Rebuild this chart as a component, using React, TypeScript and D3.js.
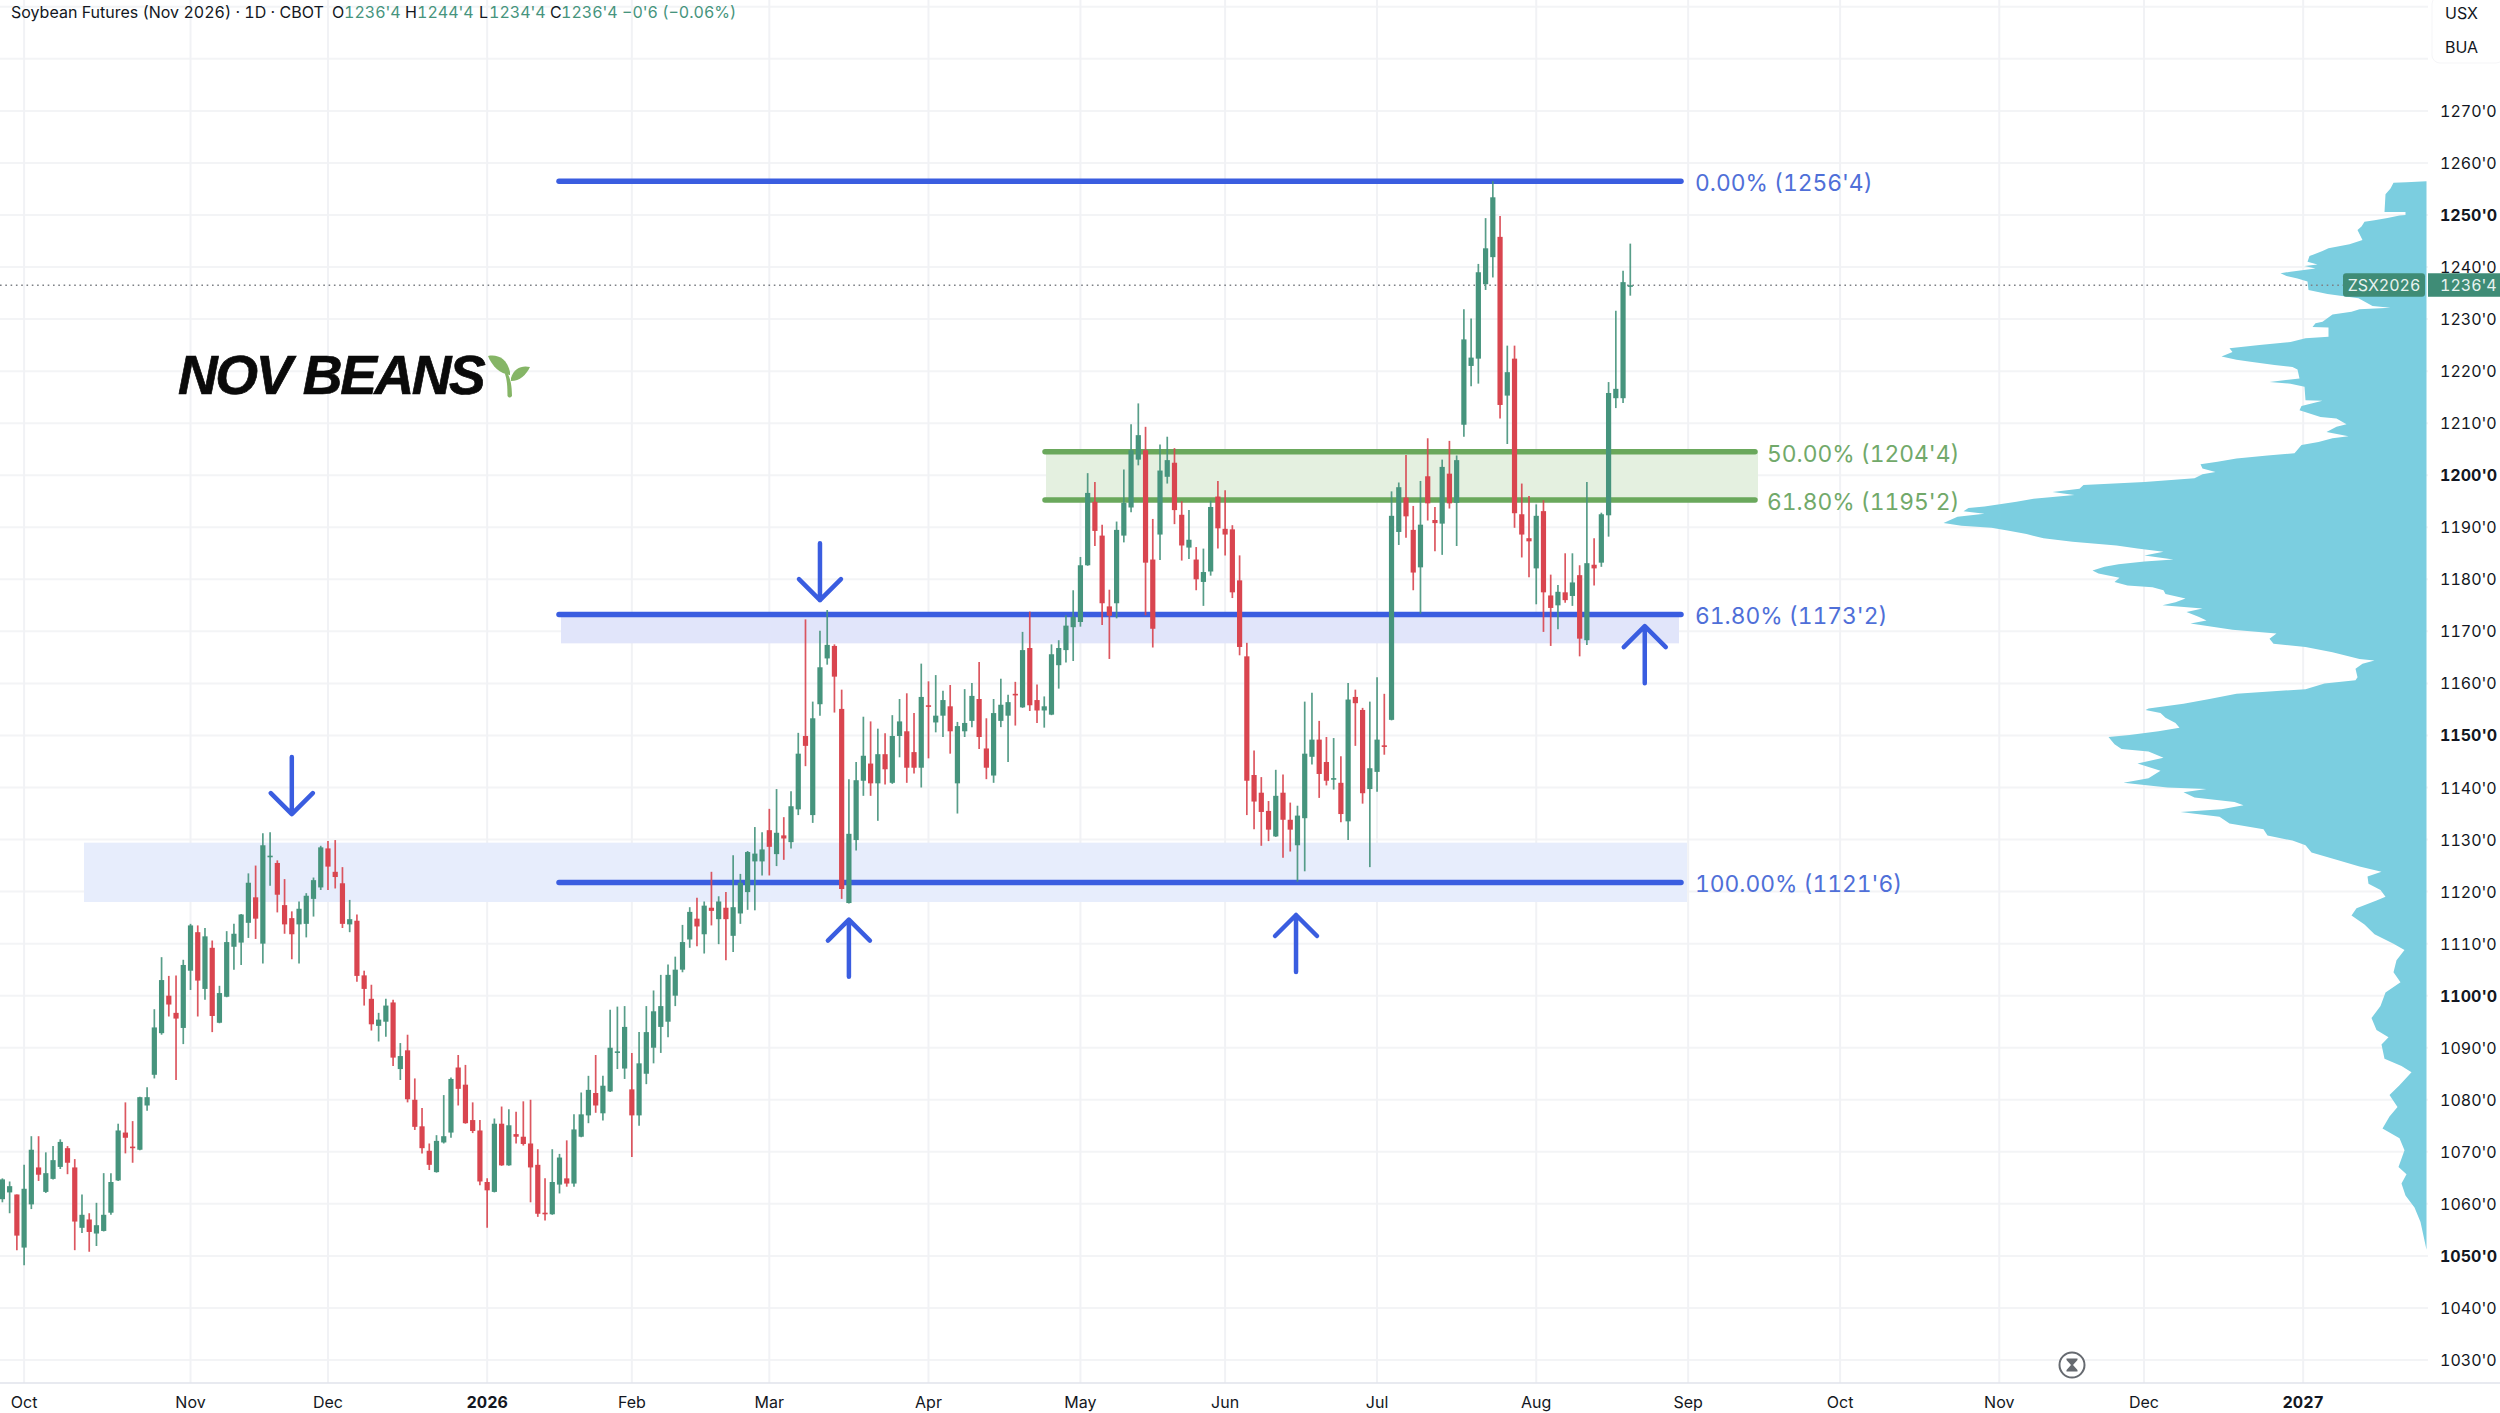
import * as d3 from "d3";

const WIDTH = 2500;
const HEIGHT = 1413;
const FONT = "Inter, 'Noto Sans', sans-serif";

const GREEN = "#46947d";
const RED = "#d9454f";
const BLUE = "#3a5de0";
const LEVEL_GREEN = "#6aa85c";

// daily bars, Sep 2025 to Aug 2026
const opens = [
  1060.9, 1062.2, 1061.8, 1051.6, 1059.9, 1067, 1062.3, 1064.8, 1067.1, 1070.7,
  1067, 1055.4, 1057, 1054.3, 1054.8, 1058.3, 1064.5, 1073.7, 1071, 1070.4,
  1078.9, 1084.8, 1092.8, 1100, 1096.7, 1093.8, 1104.8, 1112.2, 1101.3, 1109.2,
  1094.8, 1099.8, 1109.4, 1110.2, 1114, 1118.9, 1110, 1126.8, 1125.5, 1117.4,
  1114.9, 1113.7, 1113.8, 1118.6, 1120.8, 1128.3, 1123.8, 1121.6, 1113.7, 1114.4,
  1103.9, 1099.4, 1094.2, 1095, 1098.7, 1085.9, 1089.5, 1080, 1074.9, 1070.2,
  1066.1, 1071.8, 1073.7, 1086.2, 1082.9, 1076.1, 1074.1, 1064.2, 1062.3, 1075.4,
  1067.4, 1073.4, 1072.9, 1071.6, 1067.5, 1058.3, 1058, 1063.7, 1064.9, 1063.9,
  1072.9, 1077, 1081.3, 1077.4, 1081.6, 1089.2, 1086, 1082, 1077, 1085,
  1090, 1094, 1095, 1100, 1105, 1110.8, 1114.8, 1111.8, 1116.9, 1114.7,
  1116.9, 1111.5, 1115.8, 1119.9, 1125.8, 1125.8, 1131.8, 1127.2, 1130.8, 1129.5,
  1135.8, 1149.9, 1134.7, 1156, 1164.8, 1167.2, 1155.1, 1117.8, 1129.9, 1141.3,
  1144.6, 1140.8, 1146.4, 1140.9, 1149.9, 1150.8, 1146.8, 1143.8, 1155.8, 1152.5,
  1153.8, 1155.6, 1140.8, 1150.8, 1152.8, 1157, 1147.5, 1142.3, 1152.8, 1153.8,
  1158, 1155.4, 1166.8, 1156.8, 1154.8, 1154, 1163.5, 1166.4, 1170.8, 1171.8,
  1182.7, 1194.9, 1188.4, 1174.8, 1175.4, 1188.4, 1193.8, 1203, 1204.8, 1183.8,
  1188.6, 1199.7, 1202.4, 1192.4, 1186.1, 1183.8, 1179.5, 1181.5, 1195.9, 1189.7,
  1189.6, 1179.8, 1165.2, 1142.4, 1139, 1135.5, 1130.6, 1139, 1133.8, 1128.9,
  1134.1, 1145.9, 1149.2, 1144.9, 1141.7, 1140.9, 1133.5, 1157.4, 1154.9, 1139.7,
  1143, 1148.1, 1153, 1189.1, 1195.7, 1189.5, 1182.3, 1199.8, 1191.4, 1190.7,
  1200.3, 1194.7, 1209.7, 1221, 1222.4, 1236.7, 1241.9, 1245.8, 1215.3, 1222.4,
  1192.5, 1187.9, 1182.1, 1193.1, 1176.9, 1175, 1177.5, 1176.8, 1180.8, 1168.3,
  1182.8, 1183.2, 1192.3, 1214.8, 1214.8, 1236.5,
];

const highs = [
  1064.9, 1064.3, 1061.8, 1067.5, 1073, 1073, 1069.9, 1071.1, 1072.4, 1071.1,
  1068.6, 1061.8, 1058.2, 1060.2, 1065.9, 1065.9, 1075.4, 1079.5, 1075.9, 1080.6,
  1082.4, 1097.4, 1107.4, 1103.8, 1103.9, 1106.9, 1113.8, 1113.5, 1113, 1110.6,
  1101.9, 1112.4, 1113.8, 1115.7, 1123.5, 1125, 1131.2, 1131.4, 1126, 1122.4,
  1116.2, 1118.1, 1119.7, 1122.7, 1128.8, 1129.7, 1129.9, 1124.7, 1118.4, 1115.6,
  1104.8, 1102.1, 1096.7, 1099.4, 1099.2, 1090.9, 1092.5, 1084.1, 1078.4, 1071.6,
  1073.2, 1080.9, 1084.3, 1088.6, 1086.7, 1079.5, 1076.1, 1064.9, 1076.4, 1078.7,
  1078.2, 1077.7, 1079.7, 1080, 1070.5, 1064.9, 1070.5, 1069.6, 1072.2, 1077.2,
  1081.4, 1084.6, 1088.6, 1084.6, 1097.3, 1097.9, 1098, 1089, 1093, 1098,
  1101, 1104, 1106, 1107.5, 1113.6, 1117, 1118.8, 1118.1, 1123.8, 1119.1,
  1119.9, 1127, 1123.4, 1127.8, 1132.4, 1131.4, 1135.9, 1139.7, 1134.3, 1139.3,
  1150.5, 1172.3, 1156.5, 1170.1, 1174.1, 1167.5, 1158.8, 1141.6, 1144.9, 1153.6,
  1152.7, 1151.3, 1150.4, 1153.9, 1157, 1158.1, 1154.3, 1163.8, 1160.4, 1161.6,
  1158.6, 1159.7, 1152.6, 1158.9, 1160.1, 1164.1, 1153.3, 1157, 1160.9, 1157.8,
  1160.3, 1169.9, 1173.8, 1159.8, 1157.5, 1167.5, 1168.3, 1173.1, 1177.9, 1184.3,
  1200.4, 1198.7, 1190.5, 1178, 1191.1, 1201.1, 1209.8, 1213.8, 1209.3, 1191.6,
  1205.9, 1207.4, 1205.2, 1195, 1193.3, 1186.2, 1185.9, 1195.1, 1198.9, 1197.1,
  1190.4, 1184.6, 1167.8, 1147.1, 1142, 1137.4, 1143.4, 1142.5, 1137.1, 1136.5,
  1156.5, 1158.2, 1152.8, 1149.7, 1149.5, 1146, 1160.1, 1158.8, 1155.3, 1156.5,
  1161.2, 1158, 1196.9, 1198.6, 1203.9, 1194.1, 1198.9, 1207.1, 1193.9, 1203,
  1206.6, 1203.8, 1231.9, 1230.1, 1240.6, 1249.4, 1256.5, 1249.8, 1224.9, 1224.9,
  1198.4, 1196, 1194.4, 1195.2, 1180.9, 1178.9, 1185, 1185, 1182.7, 1198.7,
  1187.9, 1192.8, 1217.9, 1231.6, 1239.3, 1244.5,
];

const lows = [
  1060.3, 1058.2, 1051.1, 1048.2, 1059, 1064.4, 1062.1, 1064.7, 1066.7, 1065.7,
  1051.1, 1054.4, 1050.8, 1051.9, 1054.7, 1057.9, 1064.4, 1069.7, 1067.9, 1070.3,
  1077.9, 1084.1, 1092.5, 1096, 1083.8, 1090.7, 1101.1, 1096, 1099.2, 1093,
  1094.7, 1099.7, 1105, 1105.9, 1111.1, 1110.9, 1106.2, 1121.1, 1116, 1111.9,
  1107, 1106.2, 1111.2, 1115.2, 1120.3, 1120.3, 1120.6, 1113, 1112.2, 1102.7,
  1098.1, 1093.3, 1091.2, 1092.1, 1086.5, 1083.8, 1079.5, 1074.2, 1069.7, 1066.5,
  1066, 1071.6, 1072.7, 1078.9, 1075.4, 1073.6, 1063.6, 1055.4, 1062.2, 1067.3,
  1067.3, 1071.6, 1071.2, 1060.3, 1057.5, 1056.8, 1057.9, 1062, 1063.3, 1063.3,
  1072.8, 1075.5, 1077.5, 1076, 1081.5, 1085.9, 1084, 1069, 1075, 1083,
  1087, 1089, 1092, 1098, 1104.5, 1109.2, 1109.5, 1108.1, 1113.5, 1109.9,
  1106.8, 1108.4, 1113.8, 1116.5, 1116.4, 1123.1, 1123.1, 1124.9, 1126.1, 1128.3,
  1134.7, 1144.1, 1133.2, 1153.8, 1163.6, 1154.4, 1118.6, 1117.7, 1127.9, 1138.4,
  1138.4, 1133.6, 1140.6, 1140.7, 1145.8, 1140.9, 1142.7, 1140, 1145.6, 1150.6,
  1149.7, 1146.5, 1135, 1149.7, 1151.6, 1147.4, 1141.6, 1140.9, 1151.6, 1144.9,
  1151.9, 1155.3, 1154.7, 1152.4, 1151.5, 1153.9, 1159, 1164, 1164.3, 1170.9,
  1182.6, 1186.4, 1171.2, 1164.7, 1172.5, 1187.1, 1192.9, 1201.9, 1173.1, 1166.9,
  1183.7, 1198.4, 1190.6, 1183.6, 1183.9, 1177.9, 1174.9, 1180.7, 1185.9, 1184.6,
  1176.4, 1165.4, 1134.7, 1132, 1128.8, 1129.7, 1130.5, 1126.5, 1127.7, 1121.9,
  1123.9, 1144.4, 1138, 1140.4, 1139.6, 1133.3, 1129.9, 1148, 1136.9, 1124.7,
  1139.2, 1146.3, 1152.9, 1186.6, 1188, 1177.9, 1173.4, 1191.3, 1185.4, 1184.7,
  1193.6, 1186.4, 1207.4, 1217.1, 1217.6, 1235.6, 1238, 1210.9, 1206, 1189.9,
  1184.2, 1180.4, 1175.2, 1169.9, 1167.2, 1170.4, 1175.5, 1174.9, 1165.2, 1167.4,
  1178.8, 1182.4, 1188.2, 1212.9, 1213.9, 1234.5,
];

const closes = [
  1064.7, 1063.4, 1053.9, 1062.9, 1070.4, 1065.6, 1065.9, 1068.4, 1071.9, 1067.9,
  1056.6, 1057.9, 1054.6, 1055.9, 1057.9, 1064.2, 1074.1, 1072.7, 1070.9, 1080.5,
  1080.5, 1093.9, 1103, 1098.3, 1095.6, 1105.9, 1113.5, 1102.9, 1111.4, 1096.1,
  1100.5, 1110.3, 1111.9, 1115.6, 1121.7, 1114.8, 1128.9, 1126.9, 1119.4, 1113.7,
  1111.8, 1116.7, 1119.2, 1122.2, 1128.5, 1124.8, 1122.8, 1113.8, 1114.7, 1103.8,
  1101.3, 1094.5, 1095.4, 1098.1, 1088.1, 1088.4, 1080.1, 1074.8, 1070.7, 1067.5,
  1072.1, 1073, 1084, 1082.1, 1075.5, 1074, 1064.3, 1062.6, 1075.4, 1067.4,
  1075.1, 1072.9, 1071.5, 1067, 1058.1, 1058.2, 1064.2, 1068.9, 1063.9, 1074.3,
  1077.2, 1081.9, 1078.9, 1082.7, 1090, 1089.3, 1094, 1077, 1087, 1093,
  1097, 1098, 1104, 1105, 1110.3, 1116.1, 1113.3, 1117.3, 1116.3, 1118.1,
  1114.7, 1117, 1121.7, 1127.6, 1127.3, 1128.1, 1128.6, 1131.3, 1130.2, 1136.4,
  1146.5, 1148, 1153.3, 1163.1, 1167.4, 1161.3, 1120.5, 1131.1, 1141.4, 1146.1,
  1140.8, 1146.4, 1143.5, 1149.9, 1152.7, 1143.8, 1143.8, 1157.4, 1155.7, 1153.8,
  1156.8, 1150.8, 1151.8, 1152.4, 1157.6, 1149.7, 1143.8, 1154.3, 1155.9, 1156.4,
  1157.9, 1166.4, 1155.8, 1154.8, 1155.6, 1165.6, 1166.8, 1171.1, 1172.8, 1182.7,
  1196.6, 1189.3, 1175.4, 1173, 1189.5, 1194.7, 1204.8, 1207.7, 1183.2, 1170.5,
  1200.9, 1202.9, 1193.3, 1186.5, 1187.6, 1180, 1181.4, 1193.9, 1189.8, 1188.6,
  1177.5, 1167, 1141.3, 1137.3, 1135.3, 1131.9, 1138.4, 1133.8, 1131.9, 1134.6,
  1146.5, 1149.2, 1142.6, 1141.3, 1141.8, 1134.9, 1156.9, 1156.2, 1138.9, 1143.7,
  1149.2, 1148, 1192.2, 1197.7, 1192.1, 1181.3, 1190.5, 1194.6, 1190.8, 1201.6,
  1194.6, 1202.9, 1226.1, 1222.6, 1239, 1243.6, 1253.4, 1213.5, 1219.8, 1192.7,
  1188.6, 1187.3, 1192.2, 1177.5, 1174.5, 1177.6, 1176, 1179.4, 1168.6, 1183.1,
  1182.1, 1192.5, 1215.8, 1216.6, 1237.1, 1236.5,
];

// volume profile, price levels from the top down with their relative volume
const profilePrices = [
  1256.5, 1256.3, 1256.2, 1255.1, 1254, 1250.6, 1250.6, 1250, 1249.9, 1249.4, 1249, 1248.7, 1247.8, 1247.1, 1245.2,
  1244.4, 1243.6, 1243.1, 1242.1, 1241, 1240.5, 1240.2, 1239.7, 1239.1, 1238.8, 1238.3, 1237.8, 1237.2, 1235.6,
  1234.8, 1234, 1232.5, 1232.2, 1231.9, 1231.4, 1230.9, 1229.5, 1229.2, 1228.5, 1228.4, 1226.6, 1226.3, 1225.6,
  1225, 1224.4, 1223.7, 1222.8, 1222.2, 1221.8, 1221.2, 1220.8, 1220.3, 1218.6, 1217.9, 1217.6, 1217, 1214.4,
  1214.3, 1213.8, 1213.3, 1212.5, 1211.2, 1210.9, 1209.8, 1209.3, 1208.3, 1207.5, 1207.1, 1206.4, 1205.8, 1204.2,
  1203.8, 1203.2, 1202.6, 1202.1, 1201.3, 1200.6, 1200.2, 1199.4, 1198.7, 1198.1, 1197.4, 1196.8, 1196.2, 1195.5,
  1194.9, 1194, 1193.7, 1193.1, 1192.6, 1192, 1190.8, 1190.3, 1189.9, 1189.4, 1188.7, 1187.9, 1187.2, 1186.5,
  1185.9, 1185.3, 1184.6, 1183.8, 1183.4, 1182.9, 1182.4, 1181.7, 1181.1, 1180.3, 1179.5, 1178.8, 1178.5, 1177.9,
  1177.2, 1176.3, 1175.6, 1175, 1174.4, 1173.7, 1172.8, 1172.1, 1171.5, 1170.3, 1169.6, 1168.6, 1167.6, 1167,
  1166, 1164.7, 1164.4, 1163.8, 1162.8, 1161.2, 1160.6, 1160, 1158.9, 1158, 1157, 1156.1, 1155.2, 1154.9, 1154.3,
  1153.4, 1152.4, 1151.5, 1150.8, 1150.1, 1149.7, 1148.3, 1147.4, 1146.9, 1145.7, 1144.6, 1143.2, 1141.8, 1140.9,
  1140, 1139.7, 1139.1, 1138.1, 1137.2, 1136.6, 1135.8, 1135.3, 1134.4, 1133.1, 1132, 1130.8, 1129.8, 1128.9,
  1127.5, 1126.1, 1124.8, 1123.8, 1122.9, 1121.5, 1120.3, 1119, 1118.3, 1116.8, 1115.4, 1113.7, 1111.8, 1110,
  1108.8, 1106.8, 1104.5, 1102.6, 1100.6, 1098, 1095.7, 1093.4, 1092, 1090.6, 1087.9, 1086.5, 1085.3, 1082.8,
  1080.9, 1078.6, 1076.8, 1074.5, 1072.6, 1070.3, 1067.1, 1065.7, 1063.9, 1061.6, 1059.3, 1056.5, 1051.2,
];

const profileVolumes = [
  0, 20, 33, 36, 41, 42, 21, 21, 27, 39, 52, 62, 65, 69, 64,
  77, 98, 104, 117, 119, 109, 122, 111, 136, 146, 140, 129, 119, 118,
  99, 68, 54, 36, 67, 75, 94, 104, 111, 114, 98, 98, 121, 136,
  167, 197, 194, 205, 190, 176, 152, 134, 129, 127, 157, 136, 122, 121,
  104, 115, 125, 127, 106, 90, 80, 90, 100, 78, 94, 108, 125, 132,
  159, 190, 209, 226, 224, 211, 224, 232, 282, 343, 347, 374, 352, 393,
  410, 442, 458, 463, 442, 469, 483, 465, 435, 419, 400, 383, 354, 310,
  289, 263, 282, 253, 282, 308, 322, 334, 328, 307, 312, 299, 274, 263,
  261, 241, 251, 264, 224, 240, 228, 220, 236, 194, 150, 157, 153, 121,
  94, 67, 52, 64, 71, 69, 71, 102, 121, 190, 217, 243, 278, 281, 266,
  261, 251, 247, 268, 297, 318, 312, 305, 278, 263, 289, 266, 278, 303,
  259, 220, 243, 232, 192, 183, 205, 246, 207, 197, 163, 159, 134, 121,
  115, 90, 67, 45, 59, 58, 46, 41, 50, 70, 75, 62, 52, 33,
  22, 30, 33, 26, 41, 46, 55, 50, 38, 45, 42, 25, 15, 27,
  37, 29, 37, 44, 27, 22, 28, 20, 25, 21, 12, 6, 0,
];

const priceTicks = d3.range(1290, 1020, -10);
const priceTickLabelsHidden = [1290, 1280];
const boldPriceTicks = [1250, 1200, 1150, 1100, 1050];

const monthLabels = ["Oct", "Nov", "Dec", "2026", "Feb", "Mar", "Apr", "May", "Jun", "Jul", "Aug", "Sep", "Oct", "Nov", "Dec", "2027"];
const monthBars = [3, 26, 45, 67, 87, 106, 128, 149, 169, 190, 212, 233, 254, 276, 296, 318];
const boldMonths = ["2026", "2027"];

const blueLevels = [1256.5, 1173.25, 1121.75];
const blueLabels = ["0.00% (1256'4)", "61.80% (1173'2)", "100.00% (1121'6)"];
const greenLevels = [1204.5, 1195.25];
const greenLabels = ["50.00% (1204'4)", "61.80% (1195'2)"];

const arrowBars = [40, 113, 117, 178.8, 227];
const arrowTips = [1134.9, 1176, 1114.6, 1115.5, 1171];
const arrowDirections = ["down", "down", "up", "up", "up"];

const xScale = d3.scaleLinear().domain([0, 345]).range([2.4, 2498.5]);
const yScale = d3.scaleLinear().domain([1250, 1030]).range([215, 1360]);
const profileScale = d3.scaleLinear().domain([0, 483]).range([2426.5, 1943.5]);

const profileArea = d3
  .area<number>()
  .y((d) => yScale(d))
  .x0(profileScale(0))
  .x1((_, i) => profileScale(profileVolumes[i]));

const Candles = () => (
  <g>
    {opens.map((open, i) => {
      const up = closes[i] >= open;
      const color = up ? GREEN : RED;
      const x = xScale(i);
      const top = yScale(Math.max(open, closes[i]));
      const bottom = yScale(Math.min(open, closes[i]));
      return (
        <g key={i}>
          <line x1={x} x2={x} y1={yScale(highs[i])} y2={yScale(lows[i])} stroke={color} strokeWidth={1.7} opacity={0.9} />
          <rect x={x - 2.6} width={5.2} y={top} height={Math.max(bottom - top, 1.6)} fill={color} />
        </g>
      );
    })}
  </g>
);

const Arrow = ({ bar, tip, direction }: { bar: number; tip: number; direction: string }) => {
  const x = xScale(bar);
  const y = yScale(tip);
  const sign = direction === "down" ? -1 : 1;
  return (
    <path
      d={`M${x},${y + sign * 57} L${x},${y} M${x - 21},${y + sign * 21} L${x},${y} L${x + 21},${y + sign * 21}`}
      fill="none"
      stroke={BLUE}
      strokeWidth={4.5}
      strokeLinecap="round"
      strokeLinejoin="round"
    />
  );
};

const App = () => {
  const closeY = yScale(1236.5);
  return (
    <svg
      width={WIDTH}
      height={HEIGHT}
      style={{ position: "absolute", left: 0, top: 0, background: "#fff", fontVariantNumeric: "tabular-nums" }}
      fontFamily={FONT}
    >
      {priceTicks.map((p) => (
        <line key={p} x1={0} x2={2428} y1={yScale(p)} y2={yScale(p)} stroke="#f3f4f6" strokeWidth={2} />
      ))}
      {monthBars.map((b, i) => (
        <line key={i} x1={xScale(b)} x2={xScale(b)} y1={0} y2={1383} stroke="#f1f2f5" strokeWidth={2} />
      ))}

      <rect x={84} width={1603} y={yScale(1129.4)} height={yScale(1118) - yScale(1129.4)} fill="#e6ecfc" opacity={0.95} />
      <rect x={561} width={1118} y={yScale(1173.25)} height={yScale(1167.7) - yScale(1173.25)} fill="#dfe4fa" opacity={0.95} />
      <rect
        x={1046}
        width={712}
        y={yScale(greenLevels[0])}
        height={yScale(greenLevels[1]) - yScale(greenLevels[0])}
        fill="#e4f0e0"
      />

      <path d={profileArea(profilePrices) ?? ""} fill="#7bcee0" />

      {blueLevels.map((p, i) => (
        <g key={p}>
          <line x1={559} x2={1681} y1={yScale(p)} y2={yScale(p)} stroke={BLUE} strokeWidth={5.5} strokeLinecap="round" />
          <text x={1695} y={yScale(p) + 10} fontSize={22.8} fill="#4f6fd8">
            {blueLabels[i]}
          </text>
        </g>
      ))}
      {greenLevels.map((p, i) => (
        <g key={p}>
          <line x1={1045} x2={1755} y1={yScale(p)} y2={yScale(p)} stroke={LEVEL_GREEN} strokeWidth={5.5} strokeLinecap="round" />
          <text x={1767} y={yScale(p) + 10} fontSize={22.8} fill="#71a96a">
            {greenLabels[i]}
          </text>
        </g>
      ))}

      <line x1={0} x2={2343} y1={closeY} y2={closeY} stroke="#7d8085" strokeWidth={1.5} strokeDasharray="1.6 3.7" />

      <Candles />

      {arrowBars.map((b, i) => (
        <Arrow key={i} bar={b} tip={arrowTips[i]} direction={arrowDirections[i]} />
      ))}

      <text
        x={178}
        y={394}
        fontFamily="'Liberation Sans', Arial, sans-serif"
        fontWeight={700}
        fontStyle="italic"
        fontSize={55}
        letterSpacing={-2.4}
        fill="#0a0a0a"
        stroke="#0a0a0a"
        strokeWidth={0.7}
      >
        NOV BEANS
      </text>
      <g fill="#85b566">
        <path d="M488,356 C497,354 507,358 510,372 L510,375 C500,374 492,366 488,356 Z" />
        <path d="M530,367 C522,365 514,368 511,378 L511,381 C520,381 526,375 530,367 Z" />
        <path d="M507,372 C510,378 512,384 512,396 Q509.5,399 507.5,396 C507.5,386 507,380 505,374 Z" />
      </g>

      {/* legend line */}
      <text x={11} y={18} fontSize={16} fill="#131722">
        Soybean Futures (Nov 2026) · 1D · CBOT
      </text>
      <g fontSize={16}>
        <text x={332} y={18} fill="#131722">O</text>
        <text x={344} y={18} fill={GREEN}>1236'4</text>
        <text x={405} y={18} fill="#131722">H</text>
        <text x={417} y={18} fill={GREEN}>1244'4</text>
        <text x={479} y={18} fill="#131722">L</text>
        <text x={489} y={18} fill={GREEN}>1234'4</text>
        <text x={550} y={18} fill="#131722">C</text>
        <text x={561} y={18} fill={GREEN}>1236'4</text>
        <text x={622} y={18} fill={GREEN}>−0'6 (−0.06%)</text>
      </g>

      {/* price axis */}
      <rect x={2432} y={-4} width={72} height={67} rx={8} fill="#fff" stroke="#f5f5f7" />
      <text x={2445} y={19} fontSize={16} fill="#131722">USX</text>
      <text x={2445} y={53} fontSize={16} fill="#131722">BUA</text>
      {priceTicks
        .filter((p) => !priceTickLabelsHidden.includes(p))
        .map((p) => (
          <text
            key={p}
            x={2440}
            y={yScale(p) + 6}
            fontSize={16}
            fontWeight={boldPriceTicks.includes(p) ? 700 : 400}
            fill="#131722"
          >
            {`${p}'0`}
          </text>
        ))}

      {/* last price tags */}
      <rect x={2343} y={closeY - 12} width={82} height={23.5} rx={3} fill="#3f8c76" />
      <rect x={2428} y={closeY - 12} width={72} height={23.5} fill="#3f8c76" />
      <text x={2384} y={closeY + 6} fontSize={16} textAnchor="middle" fill="#e8f3f0">ZSX2026</text>
      <text x={2440} y={closeY + 6} fontSize={16} fill="#e8f3f0">1236'4</text>

      {/* time axis */}
      <line x1={0} x2={2500} y1={1383} y2={1383} stroke="#e0e3eb" strokeWidth={1.5} />
      {monthLabels.map((label, i) => (
        <text
          key={i}
          x={xScale(monthBars[i])}
          y={1408}
          textAnchor="middle"
          fontSize={16}
          fontWeight={boldMonths.includes(label) ? 700 : 400}
          fill="#131722"
        >
          {label}
        </text>
      ))}

      {/* session icon */}
      <circle cx={2072} cy={1365} r={12.5} fill="#fff" stroke="#666a70" strokeWidth={2} />
      <path d="M2066.5,1358.5 H2077.5 V1360 L2073,1365 L2077.5,1370 V1371.5 H2066.5 V1370 L2071,1365 L2066.5,1360 Z" fill="#666a70" />
    </svg>
  );
};

export default App;
